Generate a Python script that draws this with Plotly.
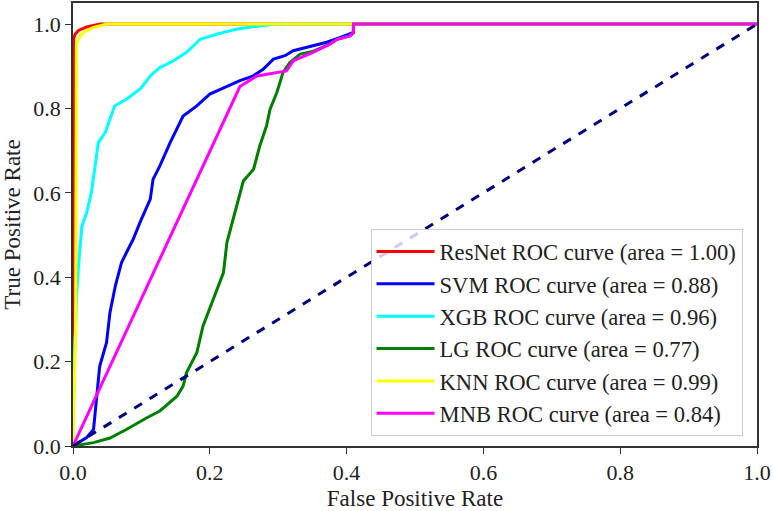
import plotly.graph_objects as go

# ---- data ----
resnet_fpr = [0.0, 0.0, 0.001, 0.003, 0.008, 0.015, 0.02, 0.03, 0.04, 1.0]
resnet_tpr = [0.0, 0.95, 0.965, 0.976, 0.985, 0.99, 0.993, 0.997, 1.0, 1.0]

svm_fpr = [0.0, 0.01, 0.02, 0.030, 0.039, 0.049, 0.054, 0.062, 0.071, 0.078, 0.088, 0.098, 0.113, 0.117,
           0.127, 0.142, 0.161, 0.181, 0.200, 0.222, 0.244, 0.262, 0.278, 0.293, 0.310, 0.322, 0.345,
           0.371, 0.39, 0.41, 0.41, 1.0]
svm_tpr = [0.0, 0.01, 0.02, 0.039, 0.189, 0.245, 0.316, 0.38, 0.435, 0.458, 0.49, 0.530, 0.585, 0.632,
           0.664, 0.719, 0.782, 0.806, 0.834, 0.850, 0.866, 0.876, 0.893, 0.917, 0.925, 0.937, 0.947,
           0.957, 0.968, 0.98, 1.0, 1.0]

xgb_fpr = [0.0, 0.002, 0.005, 0.008, 0.013, 0.020, 0.027, 0.032, 0.037, 0.047, 0.054, 0.061, 0.078,
           0.098, 0.113, 0.127, 0.147, 0.166, 0.186, 0.210, 0.239, 0.273, 0.30, 1.0]
xgb_tpr = [0.0, 0.20, 0.348, 0.427, 0.521, 0.553, 0.601, 0.664, 0.719, 0.743, 0.775, 0.806, 0.822,
           0.846, 0.877, 0.897, 0.913, 0.933, 0.964, 0.976, 0.988, 0.996, 1.0, 1.0]

lg_fpr = [0.0, 0.030, 0.054, 0.078, 0.108, 0.127, 0.152, 0.161, 0.166, 0.181, 0.190, 0.205, 0.220,
          0.225, 0.234, 0.244, 0.249, 0.264, 0.273, 0.283, 0.288, 0.298, 0.307, 0.317, 0.332, 0.35,
          0.376, 0.386, 0.405, 0.41, 0.41, 1.0]
lg_tpr = [0.0, 0.008, 0.019, 0.039, 0.067, 0.083, 0.118, 0.142, 0.174, 0.221, 0.284, 0.348, 0.411,
          0.482, 0.537, 0.601, 0.628, 0.656, 0.711, 0.759, 0.798, 0.838, 0.885, 0.909, 0.929, 0.935,
          0.953, 0.964, 0.972, 0.98, 1.0, 1.0]

knn_fpr = [0.0, 0.004, 0.005, 0.008, 0.012, 0.02, 0.03, 0.04, 0.049, 1.0]
knn_tpr = [0.0, 0.30, 0.95, 0.965, 0.975, 0.985, 0.992, 0.997, 1.0, 1.0]

mnb_fpr = [0.0, 0.244, 0.269, 0.312, 0.322, 0.351, 0.376, 0.386, 0.405, 0.41, 0.41, 1.0]
mnb_tpr = [0.0, 0.852, 0.877, 0.889, 0.913, 0.933, 0.953, 0.964, 0.972, 0.98, 1.0, 1.0]

diag = [0.0, 1.0]

series = [
    ("ResNet ROC curve (area = 1.00)", resnet_fpr, resnet_tpr, "red"),
    ("SVM ROC curve (area = 0.88)", svm_fpr, svm_tpr, "blue"),
    ("XGB ROC curve (area = 0.96)", xgb_fpr, xgb_tpr, "cyan"),
    ("LG ROC curve (area = 0.77)", lg_fpr, lg_tpr, "green"),
    ("KNN ROC curve (area = 0.99)", knn_fpr, knn_tpr, "yellow"),
    ("MNB ROC curve (area = 0.84)", mnb_fpr, mnb_tpr, "magenta"),
]

x_ticks = [0.0, 0.2, 0.4, 0.6, 0.8, 1.0]
y_ticks = [0.0, 0.2, 0.4, 0.6, 0.8, 1.0]

FONT = "Liberation Serif"
TXT = "#222222"

fig = go.Figure()
for name, fx, ty, col in series:
    fig.add_trace(go.Scatter(x=fx, y=ty, mode="lines", name=name,
                             line=dict(color=col, width=3)))
fig.add_trace(go.Scatter(x=diag, y=diag, mode="lines", showlegend=False,
                         line=dict(color="navy", width=3, dash="dash")))

axis_common = dict(showline=True, linecolor="#333333", linewidth=1.5, mirror=True,
                   ticks="outside", ticklen=6, tickwidth=1.2, tickcolor="#333333",
                   showgrid=False, zeroline=False, automargin=False,
                   tickfont=dict(family=FONT, size=22, color=TXT))

fig.update_xaxes(range=[0, 1], tickvals=x_ticks, ticktext=[f"{v:.1f}" for v in x_ticks],
                 title=dict(text="False Positive Rate", font=dict(family=FONT, size=23, color=TXT), standoff=10),
                 **axis_common)
fig.update_yaxes(range=[0, 1.05], tickvals=y_ticks, ticktext=[f"{v:.1f}" for v in y_ticks],
                 title=dict(text="True Positive Rate", font=dict(family=FONT, size=23, color=TXT), standoff=6),
                 **axis_common)

fig.update_layout(
    width=773, height=511,
    margin=dict(l=73, r=16, t=3, b=65),
    paper_bgcolor="white", plot_bgcolor="white",
    font=dict(family=FONT, size=22, color=TXT),
    legend=dict(x=0.435, y=0.022, xanchor="left", yanchor="bottom",
                bgcolor="rgba(255,255,255,0.8)", bordercolor="#cccccc", borderwidth=1,
                itemwidth=58,
                font=dict(family=FONT, size=22.6, color=TXT), tracegroupgap=0),
    showlegend=True,
)

fig.write_html("out.html", config={"displayModeBar": False},
               post_script="document.body.style.margin='0';document.body.style.overflow='hidden';")
